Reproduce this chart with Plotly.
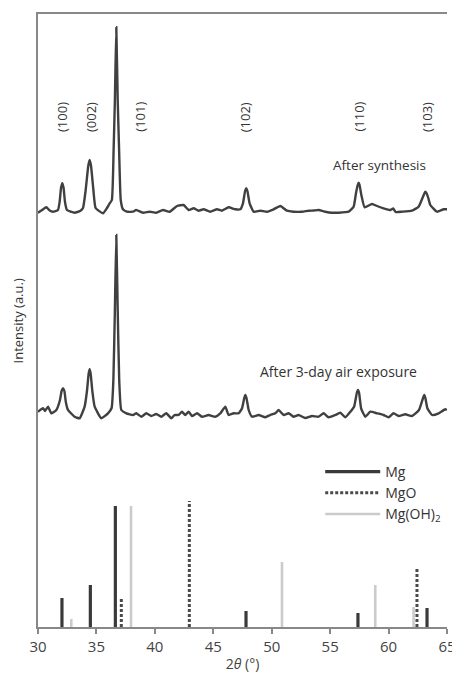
import plotly.graph_objects as go

# ---------------- data ----------------
# XRD pattern after synthesis (2theta in degrees, intensity a.u. above its own baseline)
syn_2theta = [30.0, 30.35, 30.71, 31.0, 31.28, 31.71, 31.85, 31.97, 32.08, 32.19, 32.31, 32.48,
              33.13, 33.6, 33.85, 34.08, 34.3, 34.42, 34.54, 34.74, 34.93, 35.56, 35.9, 36.1,
              36.32, 36.47, 36.58, 36.7, 36.82, 36.94, 37.08, 37.27, 37.62, 38.13, 38.4, 38.98,
              39.55, 40.12, 40.7, 41.27, 41.9, 42.46, 42.89, 43.32, 43.74, 44.17, 44.74, 45.32,
              45.74, 46.31, 46.88, 47.31, 47.54, 47.72, 47.82, 47.92, 48.11, 48.45, 49.02, 49.6,
              50.16, 50.74, 51.3, 51.87, 52.59, 53.16, 53.6, 54.01, 54.59, 55.16, 55.72, 56.58,
              57.01, 57.21, 57.36, 57.44, 57.52, 57.67, 57.95, 58.58, 59.01, 59.57, 60.15, 60.4,
              60.6, 61.15, 62.0, 62.57, 62.9, 63.08, 63.15, 63.24, 63.4, 63.57, 64.14, 64.71, 65.0]
syn_int = [-0.7, 2, 4.7, 1.5, 0.3, 2, 10, 24, 28.7, 24, 10, 2,
           -0.7, 1, 4, 22, 46, 52, 46, 22, 4, -1.3, 4, 8,
           12, 62, 112, 184.7, 112, 62, 12, 2.7, 0.3, 0.3, 2, -0.7,
           0.3, -0.7, 2, 0.3, 6, 7, 2, 3.7, 1.3, 2.7, 0.3, 2.7,
           1.3, 4.7, 2.7, 2.7, 8.7, 21, 23.7, 21, 8.7, 0.3, 1.3, 0.3,
           2.7, 6, 1.3, 0.3, 0.3, 1.3, 1.5, 2, 0.3, -0.7, -0.7, 0.3,
           5.3, 18.7, 27, 29.3, 27, 17, 4.7, 8, 6, 3.7, 2, 3.5,
           0, 0.3, 1.3, 5.3, 14, 19, 20.3, 19, 14, 7, 0.3, 2.7, 2.7]

# XRD pattern after 3-day air exposure
air_2theta = [30.0, 30.43, 30.6, 30.86, 31.14, 31.57, 31.88, 32.02, 32.14, 32.26, 32.38, 32.57,
              33.13, 33.56, 33.99, 34.2, 34.33, 34.42, 34.51, 34.64, 34.85, 35.42, 35.99, 36.3,
              36.45, 36.58, 36.7, 36.82, 36.95, 37.13, 37.56, 38.13, 38.41, 38.84, 39.27, 39.7,
              40.12, 40.55, 40.98, 41.41, 41.69, 42.03, 42.32, 42.6, 42.89, 43.18, 43.61, 44.03,
              44.6, 45.17, 45.6, 46.03, 46.31, 46.74, 47.17, 47.46, 47.65, 47.74, 47.84, 48.03,
              48.31, 48.88, 49.45, 49.88, 50.31, 50.59, 51.02, 51.45, 51.87, 52.3, 52.87, 53.45,
              54.01, 54.44, 54.87, 55.44, 55.87, 56.3, 56.73, 57.05, 57.28, 57.38, 57.48, 57.65,
              58.01, 58.44, 59.01, 59.57, 60.0, 60.43, 60.86, 61.43, 62.0, 62.6, 62.95, 63.05,
              63.15, 63.32, 63.72, 64.29, 64.86, 65.0]
air_int = [4.3, 7.7, 5, 9.3, 2.7, 6, 16, 25, 27.7, 25, 14, 6,
           -0.7, -2.3, 9.3, 26, 42, 46.7, 42, 26, 9.3, -2.3, 2.7, 8,
           36, 106, 181, 106, 36, 6, 2.7, 1, 2.7, -0.7, 2.7, 0,
           2, -0.7, 2.7, -2.3, 1, 1, 4.3, 1, 4.3, 0, 2.7, -0.7,
           1, -0.7, 2.7, 9.3, 1, 2.7, 2.7, 7.7, 18, 21, 18, 6,
           -0.7, 1, -1.3, 1, 2.7, 6, 1, 2.7, -0.7, 1, -2, 0,
           -0.7, 2.7, -1.3, 1, 3.3, -1.3, 4.3, 9.3, 23, 26, 23, 7.7,
           -0.7, 4.3, 2.7, 1, -1.3, 2.7, 0, 1.7, 0, 6, 18, 21,
           18, 7.7, 1, 2.7, 6.7, 6]

# vertical offsets of the stacked patterns
syn_offset = 415
air_offset = 211

# Reference (stick) patterns
mg_2theta = [32.05, 34.48, 36.62, 47.8, 57.38, 63.29]
mg_int = [29, 42, 121, 16, 14, 19]
mgo_2theta = [37.13, 42.95, 62.43]
mgo_int = [29, 126, 59]
mgoh_2theta = [32.85, 37.96, 50.88, 58.86, 62.14]
mgoh_int = [8, 121, 65, 42, 20]

# Miller-index labels
hkl_labels = ["(100)", "(002)", "(101)", "(102)", "(110)", "(103)"]
hkl_2theta = [32.05, 34.54, 38.7, 47.74, 57.43, 63.29]

x_ticks = [30, 35, 40, 45, 50, 55, 60, 65]

# ---------------- figure ----------------
FONT = "Open Sans"
curve_color = "#404040"

fig = go.Figure()

fig.add_trace(go.Scatter(
    x=syn_2theta, y=[v + syn_offset for v in syn_int], mode="lines",
    line=dict(color=curve_color, width=2.4, shape="spline", smoothing=0.4),
    showlegend=False, hoverinfo="skip"))
fig.add_trace(go.Scatter(
    x=air_2theta, y=[v + air_offset for v in air_int], mode="lines",
    line=dict(color=curve_color, width=2.4, shape="spline", smoothing=0.4),
    showlegend=False, hoverinfo="skip"))


def sticks(xs, hs):
    X, Y = [], []
    for x, h in zip(xs, hs):
        X += [x, x, None]
        Y += [0, h, None]
    return X, Y


for name, xs, hs, color, width, dash in [
    ("Mg", mg_2theta, mg_int, "#3a3a3a", 3.2, "solid"),
    ("MgO", mgo_2theta, mgo_int, "#4a4a4a", 3.0, "3px,2px"),
    ("Mg(OH)<sub>2</sub>", mgoh_2theta, mgoh_int, "#cbcbcb", 2.6, "solid"),
]:
    X, Y = sticks(xs, hs)
    fig.add_trace(go.Scatter(x=X, y=Y, mode="lines", name=name,
                             line=dict(color=color, width=width, dash=dash),
                             hoverinfo="skip"))

annotations = []
for lab, x in zip(hkl_labels, hkl_2theta):
    annotations.append(dict(x=x, y=510, xref="x", yref="y", text=lab, showarrow=False,
                            textangle=-90, font=dict(family=FONT, size=13, color="#333"),
                            xanchor="center", yanchor="middle"))
annotations.append(dict(x=63.4, y=462, xref="x", yref="y", text="After synthesis",
                        showarrow=False, xanchor="right", yanchor="middle",
                        font=dict(family=FONT, size=13.5, color="#333")))
annotations.append(dict(x=62.6, y=256, xref="x", yref="y", text="After 3-day air exposure",
                        showarrow=False, xanchor="right", yanchor="middle",
                        font=dict(family=FONT, size=14, color="#333")))
annotations.append(dict(x=-0.049, y=0.5, xref="paper", yref="paper", text="Intensity (a.u.)",
                        showarrow=False, textangle=-90, xanchor="center", yanchor="middle",
                        font=dict(family=FONT, size=13, color="#333")))

fig.update_layout(
    width=452, height=673,
    margin=dict(l=38, r=5, t=14, b=46),
    paper_bgcolor="white", plot_bgcolor="white",
    font=dict(family=FONT, color="#333"),
    annotations=annotations,
    legend=dict(x=0.69, y=0.279, xanchor="left", yanchor="top",
                bgcolor="rgba(0,0,0,0)", font=dict(family=FONT, size=14, color="#333"),
                itemwidth=55, tracegroupgap=0),
    xaxis=dict(range=[30, 65], tickvals=x_ticks, ticks="outside", ticklen=5,
               tickwidth=1.5, tickcolor="#888", showline=True, linecolor="#888",
               linewidth=1.5, mirror=True, showgrid=False, zeroline=False,
               ticklabeloverflow="allow", ticklabelstandoff=0,
               tickfont=dict(family=FONT, size=15, color="#444"), automargin=False,
               title=dict(text="2<i>θ</i> (°)", font=dict(family=FONT, size=14, color="#444"),
                          standoff=4)),
    yaxis=dict(range=[0, 613], showticklabels=False, ticks="", showline=True,
               linecolor="#888", linewidth=1.5, showgrid=False, zeroline=False,
               automargin=False),
)

fig.write_html("out.html")
